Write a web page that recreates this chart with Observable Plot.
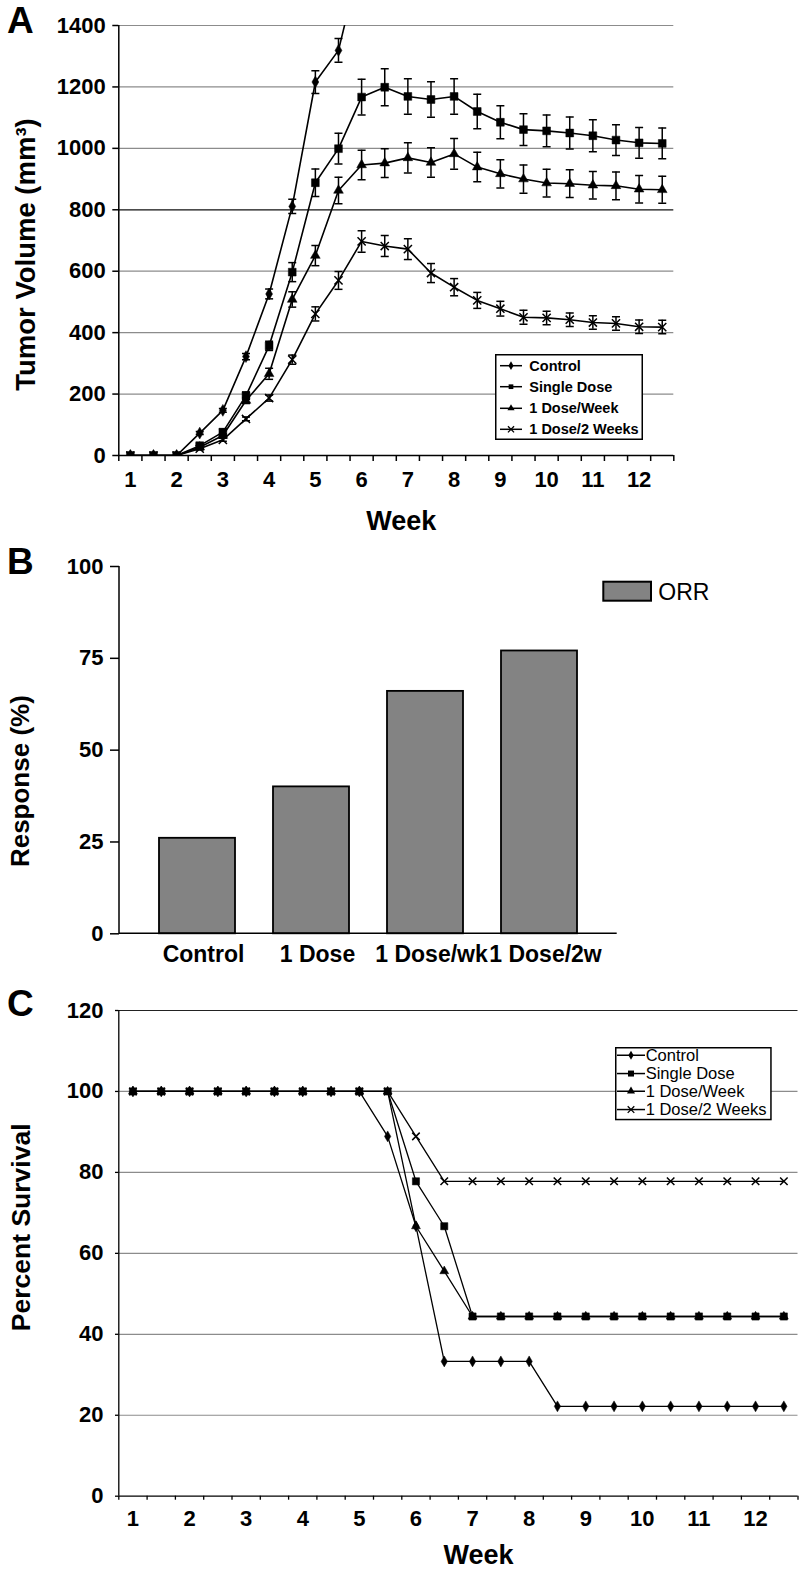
<!DOCTYPE html>
<html><head><meta charset="utf-8">
<script src="https://cdn.jsdelivr.net/npm/d3@7"></script>
<script src="https://cdn.jsdelivr.net/npm/@observablehq/plot@0.6"></script>
<style>
body{margin:0;background:#fff;}
#wrap{position:relative;width:799px;height:1570px;background:#fff;}
#wrap svg{display:block;}
.letter{position:absolute;left:7px;font:bold 37px/37px 'Liberation Sans',Arial,Helvetica,sans-serif;color:#000;}
</style></head><body><div id="wrap"></div><script>
const FONT = "'Liberation Sans', Arial, Helvetica, sans-serif";

// ---------- Panel A: tumor volume ----------
const weeks = [1,1.5,2,2.5,3,3.5,4,4.5,5,5.5,6,6.5,7,7.5,8,8.5,9,9.5,10,10.5,11,11.5,12,12.5];
const weekLabels = [1,2,3,4,5,6,7,8,9,10,11,12];
const seriesNames = ["Control","Single Dose","1 Dose/Week","1 Dose/2 Weeks"];
const seriesSymbols = ["diamond","square","triangle","times"];

const volControl = [0,0,0,73,147,322,526,811,1216,1319,1630];
const errControl = [0,0,0,5,6,10,16,23,37,39,40];
const volSingle  = [0,0,0,32,76,195,357,597,888,999,1167,1199,1169,1159,1169,1120,1085,1061,1057,1050,1041,1027,1018,1016];
const errSingle  = [0,0,0,8,10,12,15,31,45,50,58,60,58,58,58,56,54,52,52,52,52,50,50,50];
const volWeekly  = [0,0,0,27,65,179,266,508,651,863,946,952,969,954,982,939,917,900,887,885,880,878,867,865];
const errWeekly  = [0,0,0,5,6,10,18,25,33,43,48,47,49,48,50,48,46,46,45,45,45,45,45,44];
const volBiweek  = [0,0,0,22,51,119,187,312,461,570,697,682,672,594,548,505,478,450,448,442,433,430,419,418];
const errBiweek  = [0,0,0,4,5,6,10,15,23,29,35,34,34,31,28,26,24,23,22,22,22,22,22,22];
const yTicksA = [0,200,400,600,800,1000,1200,1400];
const gridA = [200,400,600,1000,1200,1400];
const darkGridA = [800];

// ---------- Panel B: response ----------
const responseGroups = ["Control","1 Dose","1 Dose/wk","1 Dose/2w"];
const responseORR = [26,40,66,77];
const yTicksB = [0,25,50,75,100];

// ---------- Panel C: survival ----------
const survControl = [100,100,100,100,100,100,100,100,100,88.9,66.7,33.3,33.3,33.3,33.3,22.2,22.2,22.2,22.2,22.2,22.2,22.2,22.2,22.2];
const survSingle  = [100,100,100,100,100,100,100,100,100,100,77.8,66.7,44.4,44.4,44.4,44.4,44.4,44.4,44.4,44.4,44.4,44.4,44.4,44.4];
const survWeekly  = [100,100,100,100,100,100,100,100,100,100,66.7,55.6,44.4,44.4,44.4,44.4,44.4,44.4,44.4,44.4,44.4,44.4,44.4,44.4];
const survBiweek  = [100,100,100,100,100,100,100,100,100,100,88.9,77.8,77.8,77.8,77.8,77.8,77.8,77.8,77.8,77.8,77.8,77.8,77.8,77.8];
const yTicksC = [0,20,40,60,80,100,120];
const gridC = [20,40,60,80,100];
const darkGridC = [120];

// ---------- helpers ----------
const xMin = weeks[0] - 0.25, xMax = weeks[weeks.length-1] + 0.25;
const bounds = weeks.map(w => w - 0.25).concat([xMax]);
const capSymbol = {draw(ctx, size){ const r = Math.sqrt(size/Math.PI); ctx.moveTo(-r,0); ctx.lineTo(r,0); }};
const rowsOf = (vals, errs, name) => vals.map((v,j) => ({week: weeks[j], value: v, err: errs ? errs[j] : 0, series: name}));

const volData = [
  rowsOf(volControl, errControl, seriesNames[0]),
  rowsOf(volSingle, errSingle, seriesNames[1]),
  rowsOf(volWeekly, errWeekly, seriesNames[2]),
  rowsOf(volBiweek, errBiweek, seriesNames[3])
];
const survData = [
  rowsOf(survControl, null, seriesNames[0]),
  rowsOf(survSingle, null, seriesNames[1]),
  rowsOf(survWeekly, null, seriesNames[2]),
  rowsOf(survBiweek, null, seriesNames[3])
];
const drawOrder = [0,2,3,1];

function markerDot(rows, i, scale, clip) {
  const sym = seriesSymbols[i];
  const rA = {diamond:3.6, square:4.4, triangle:3.6, times:3.8}[sym] * scale;
  if (sym === "times") return Plot.dot(rows, {x:"week", y:"value", symbol:sym, r:rA, fill:"none", stroke:"black", strokeWidth:1.5, clip});
  return Plot.dot(rows, {x:"week", y:"value", symbol:sym, r:rA, fill:"black", stroke:"black", strokeWidth:0.5, clip});
}

const wrap = document.getElementById("wrap");

// ---------- Panel A ----------
const marksA = [
  Plot.ruleY(gridA, {stroke:"#8c8c8c", strokeWidth:1.2}),
  Plot.ruleY(darkGridA, {stroke:"#111", strokeWidth:1.2}),
  Plot.ruleX([xMin], {stroke:"black", strokeWidth:1.5}),
  Plot.ruleY([0], {stroke:"black", strokeWidth:1.5}),
  Plot.axisY({ticks:yTicksA, tickSize:6, tickPadding:7, fontSize:22, fontWeight:"bold", label:null, tickFormat:d=>String(d), strokeWidth:1.5}),
  Plot.axisX({ticks:bounds, tickSize:6, tickFormat:()=>"", label:null, strokeWidth:1.5}),
  Plot.axisX({ticks:weekLabels, tickSize:0, tickPadding:16, fontSize:22, fontWeight:"bold", label:null, tickFormat:d=>String(d)})
];
for (const i of drawOrder) {
  const rows = volData[i];
  const eb = rows.filter(d => d.err > 0);
  marksA.push(
    Plot.ruleX(eb, {x:"week", y1:d=>d.value-d.err, y2:d=>d.value+d.err, stroke:"black", strokeWidth:1.5, clip:true}),
    Plot.dot(eb, {x:"week", y:d=>d.value-d.err, symbol:capSymbol, r:4, fill:"none", stroke:"black", strokeWidth:1.5, clip:true}),
    Plot.dot(eb, {x:"week", y:d=>d.value+d.err, symbol:capSymbol, r:4, fill:"none", stroke:"black", strokeWidth:1.5, clip:true}),
    Plot.line(rows, {x:"week", y:"value", stroke:"black", strokeWidth:1.6, clip:true}),
    markerDot(rows, i, 1, true)
  );
}
marksA.push(
  Plot.text(["Week"], {text:d=>d, frameAnchor:"bottom", dy:74, dx:5, lineAnchor:"bottom", textAnchor:"middle", fontSize:27, fontWeight:"bold", fill:"black"}),
  Plot.text(["Tumor Volume (mm³)"], {text:d=>d, frameAnchor:"left", rotate:-90, dx:-84, dy:14, lineAnchor:"bottom", textAnchor:"middle", fontSize:27.5, fontWeight:"bold", fill:"black"})
);
const chartA = Plot.plot({
  width:799, height:540, marginLeft:118.3, marginRight:125.7, marginTop:25, marginBottom:85,
  x:{domain:[xMin, xMax]}, y:{domain:[0,1400]},
  style:{fontFamily:FONT, background:"white", color:"black", overflow:"visible"},
  marks: marksA
});
wrap.appendChild(chartA);

// ---------- Panel B ----------
const axisLinesB = (index, scales, values, dims) => {
  const {width, height, marginLeft, marginRight, marginTop, marginBottom} = dims;
  const g = d3.create("svg:g").attr("stroke","black").attr("stroke-width",1.5);
  g.append("line").attr("x1",marginLeft).attr("x2",marginLeft).attr("y1",marginTop).attr("y2",height-marginBottom);
  g.append("line").attr("x1",marginLeft).attr("x2",width-marginRight).attr("y1",height-marginBottom).attr("y2",height-marginBottom);
  return g.node();
};
const chartB = Plot.plot({
  width:799, height:440, marginLeft:119, marginRight:182.3, marginTop:26, marginBottom:46.7,
  x:{domain:responseGroups, paddingInner:0.33, paddingOuter:0.34}, y:{domain:[0,100]},
  style:{fontFamily:FONT, background:"white", color:"black", overflow:"visible"},
  marks:[
    Plot.barY(responseGroups.map((g,i)=>({group:g, value:responseORR[i]})), {x:"group", y:"value", fill:"#838383", stroke:"black", strokeWidth:1.8}),
    axisLinesB,
    Plot.axisY({ticks:yTicksB, tickSize:9, tickPadding:7, fontSize:22, fontWeight:"bold", label:null, strokeWidth:1.5}),
    Plot.axisX({tickSize:0, tickPadding:11.7, fontSize:23, fontWeight:"bold", dx:6, label:null}),
    Plot.text(["Response (%)"], {text:d=>d, frameAnchor:"left", rotate:-90, dx:-90.5, dy:31, lineAnchor:"bottom", textAnchor:"middle", fontSize:26, fontWeight:"bold", fill:"black"})
  ]
});
wrap.appendChild(chartB);

// ---------- Panel C ----------
const marksC = [
  Plot.ruleY(gridC, {stroke:"#8c8c8c", strokeWidth:1.2}),
  Plot.ruleY(darkGridC, {stroke:"#222", strokeWidth:1.2}),
  Plot.ruleX([xMin], {stroke:"black", strokeWidth:1.3}),
  Plot.ruleY([0], {stroke:"black", strokeWidth:1.3}),
  Plot.axisY({ticks:yTicksC, tickSize:3.3, tickPadding:12, fontSize:22, fontWeight:"bold", label:null, strokeWidth:1.3}),
  Plot.axisX({ticks:bounds, tickSize:4, tickFormat:()=>"", label:null, strokeWidth:1.3}),
  Plot.axisX({ticks:weekLabels, tickSize:0, tickPadding:14.3, fontSize:22, fontWeight:"bold", label:null, tickFormat:d=>String(d)})
];
for (const i of drawOrder) {
  const rows = survData[i];
  marksC.push(
    Plot.line(rows, {x:"week", y:"value", stroke:"black", strokeWidth:1.3}),
    markerDot(rows, i, 0.92, false)
  );
}
marksC.push(
  Plot.text(["Week"], {text:d=>d, frameAnchor:"bottom", dy:67.3, dx:20, lineAnchor:"bottom", textAnchor:"middle", fontSize:27, fontWeight:"bold", fill:"black"}),
  Plot.text(["Percent Survival"], {text:d=>d, frameAnchor:"left", rotate:-90, dx:-89, dy:-26, lineAnchor:"bottom", textAnchor:"middle", fontSize:26.5, fontWeight:"bold", fill:"black"})
);
const chartC = Plot.plot({
  width:799, height:590, marginLeft:118.3, marginRight:1.5, marginTop:30, marginBottom:74.3,
  x:{domain:[xMin, xMax]}, y:{domain:[0,120]},
  style:{fontFamily:FONT, background:"white", color:"black", overflow:"visible"},
  marks: marksC
});
wrap.appendChild(chartC);

// ---------- Panel letters ----------
[["A",2],["B",543],["C",985]].forEach(([t,top]) => {
  const d = document.createElement("div"); d.className = "letter"; d.textContent = t; d.style.top = top + "px"; wrap.appendChild(d);
});

// ---------- Legends ----------
const d3Sym = {diamond:d3.symbolDiamond, square:d3.symbolSquare, triangle:d3.symbolTriangle, times:d3.symbolTimes};
function seriesLegend({left, top, width, height, textX, baselines, fontSize, fontWeight, lineX1, lineX2, capH, symSize}) {
  const svg = d3.create("svg").attr("width",width).attr("height",height)
    .style("position","absolute").style("left",left+"px").style("top",top+"px").style("overflow","visible");
  svg.append("rect").attr("x",0.75).attr("y",0.75).attr("width",width-1.5).attr("height",height-1.5)
    .attr("fill","white").attr("stroke","black").attr("stroke-width",1.5);
  seriesNames.forEach((name,i) => {
    const cy = baselines[i] - capH/2;
    svg.append("line").attr("x1",lineX1).attr("x2",lineX2).attr("y1",cy).attr("y2",cy).attr("stroke","black").attr("stroke-width",1.5);
    const sym = seriesSymbols[i];
    const p = svg.append("path").attr("transform",`translate(${(lineX1+lineX2)/2},${cy})`)
      .attr("d", d3.symbol(d3Sym[sym], symSize[sym])());
    if (sym === "times") p.attr("fill","none").attr("stroke","black").attr("stroke-width",1.3);
    else p.attr("fill","black");
    svg.append("text").attr("x",textX).attr("y",baselines[i]).attr("font-family",FONT)
      .attr("font-size",fontSize).attr("font-weight",fontWeight).attr("fill","black").text(name);
  });
  wrap.appendChild(svg.node());
}
seriesLegend({left:495, top:354, width:148, height:86, textX:34.3, baselines:[16.7,37.7,59.3,80.3],
  fontSize:14.5, fontWeight:"bold", lineX1:5, lineX2:27, capH:10,
  symSize:{diamond:22, square:22, triangle:22, times:26}});
seriesLegend({left:615, top:1046.7, width:156.7, height:73.3, textX:30.7, baselines:[14,32.3,50,68.3],
  fontSize:16.5, fontWeight:"normal", lineX1:2, lineX2:30, capH:11.5,
  symSize:{diamond:24, square:36, triangle:28, times:30}});

// ORR legend
(() => {
  const svg = d3.create("svg").attr("width",120).attr("height",30)
    .style("position","absolute").style("left","602px").style("top","580px");
  svg.append("rect").attr("x",1.3).attr("y",1.7).attr("width",47.7).attr("height",19)
    .attr("fill","#838383").attr("stroke","black").attr("stroke-width",2);
  svg.append("text").attr("x",56.3).attr("y",20).attr("font-family",FONT).attr("font-size",23)
    .attr("fill","black").text("ORR");
  wrap.appendChild(svg.node());
})();
</script></body></html>
